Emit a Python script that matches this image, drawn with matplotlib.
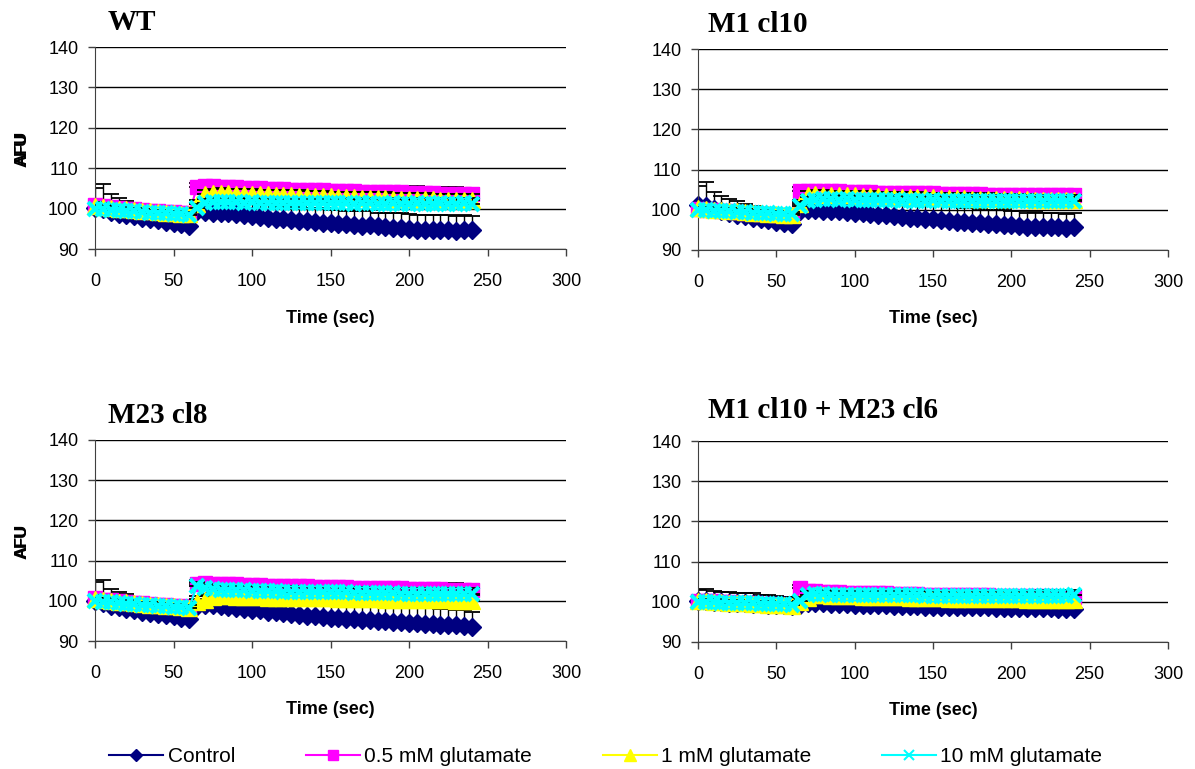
import numpy as np
import matplotlib
matplotlib.use("Agg")
import matplotlib.pyplot as plt
from matplotlib.lines import Line2D

plt.rcParams['font.family'] = ['Liberation Sans', 'DejaVu Sans']

# time points (sec)
time_s = [0, 5, 10, 15, 20, 25, 30, 35, 40, 45, 50, 55, 60,
          65, 70, 75, 80, 85, 90, 95, 100, 105, 110, 115, 120, 125, 130, 135,
          140, 145, 150, 155, 160, 165, 170, 175, 180, 185, 190, 195, 200,
          205, 210, 215, 220, 225, 230, 235, 240]

series_names = ['Control', '0.5 mM glutamate', '1 mM glutamate', '10 mM glutamate']
panel_titles = ['WT', 'M1 cl10', 'M23 cl8', 'M1 cl10 + M23 cl6']

# ---- WT ----
wt_ctrl = [100.2, 99.8, 99.2, 98.7, 98.4, 98.1, 97.7, 97.4, 97.1, 96.8, 96.5, 96.2, 95.8,
           99.3, 99.2, 99.0, 98.9, 98.8, 98.6, 98.3, 98.1, 97.9, 97.7, 97.5, 97.4, 97.1, 96.9,
           97.0, 96.7, 96.5, 96.4, 96.2, 96.1, 95.9, 95.8, 95.9, 95.6, 95.4, 95.2, 95.3, 95.0,
           94.8, 94.7, 94.8, 94.6, 94.6, 94.5, 94.6, 94.7]
wt_ctrl_err = [5.0, 6.2, 4.3, 3.9, 3.6, 3.4, 3.0, 2.9, 2.7, 2.6, 2.4, 2.5, 2.3,
               2.2, 2.4, 2.5, 2.7, 2.6, 2.9, 3.0, 3.3, 3.1, 3.2, 3.4, 3.0, 3.3, 3.5,
               3.2, 3.4, 3.6, 3.3, 3.5, 3.4, 3.6, 3.5, 3.7, 3.4, 3.6, 3.8, 3.5, 3.7,
               3.6, 3.8, 3.5, 3.9, 3.7, 3.6, 3.8, 3.5]
wt_05 = [100.8, 100.6, 100.4, 100.2, 100.0, 99.8, 99.7, 99.5, 99.4, 99.2, 99.1, 99.0, 98.9,
         105.4, 105.6, 105.5, 105.4, 105.3, 105.3, 105.1, 105.0, 105.0, 104.9, 104.8, 104.8,
         104.7, 104.6, 104.6, 104.5, 104.5, 104.4, 104.4, 104.3, 104.3, 104.2, 104.2, 104.1,
         104.1, 104.0, 104.0, 103.9, 103.9, 103.8, 103.8, 103.7, 103.7, 103.6, 103.6, 103.5]
wt_05_err = [1.2, 1.4, 1.3, 1.2, 1.1, 1.1, 1.0, 1.0, 0.9, 0.9, 0.9, 0.8, 0.8,
             1.0, 1.1, 1.2, 1.1, 1.2, 1.1, 1.2, 1.3, 1.2, 1.3, 1.2, 1.3, 1.4, 1.3,
             1.4, 1.3, 1.4, 1.5, 1.4, 1.5, 1.4, 1.5, 1.4, 1.5, 1.6, 1.5, 1.6, 1.5,
             1.6, 1.5, 1.6, 1.7, 1.6, 1.7, 1.6, 1.7]
wt_1 = [100.6, 100.4, 100.2, 100.0, 99.8, 99.6, 99.4, 99.3, 99.1, 99.0, 98.8, 98.7, 98.6,
        101.2, 103.6, 103.8, 103.9, 103.8, 103.7, 103.7, 103.6, 103.5, 103.5, 103.4, 103.3,
        103.3, 103.2, 103.1, 103.1, 103.0, 103.0, 102.9, 102.8, 102.8, 102.7, 102.7, 102.6,
        102.6, 102.5, 102.5, 102.4, 102.4, 102.3, 102.3, 102.2, 102.2, 102.2, 102.1, 102.1]
wt_1_err = [1.0, 1.1, 1.0, 1.0, 0.9, 0.9, 0.9, 0.8, 0.8, 0.8, 0.7, 0.7, 0.7,
            1.0, 1.1, 1.0, 1.1, 1.1, 1.2, 1.1, 1.2, 1.2, 1.1, 1.2, 1.3, 1.2, 1.3,
            1.2, 1.3, 1.3, 1.2, 1.3, 1.4, 1.3, 1.4, 1.3, 1.4, 1.4, 1.3, 1.4, 1.5,
            1.4, 1.5, 1.4, 1.5, 1.5, 1.4, 1.5, 1.5]
wt_10 = [100.0, 99.9, 99.7, 99.6, 99.4, 99.3, 99.2, 99.0, 98.9, 98.8, 98.7, 98.6, 98.5,
         100.2, 101.4, 101.6, 101.7, 101.6, 101.6, 101.5, 101.6, 101.5, 101.5, 101.4, 101.5,
         101.4, 101.4, 101.3, 101.4, 101.3, 101.3, 101.4, 101.3, 101.2, 101.3, 101.3, 101.2,
         101.2, 101.3, 101.2, 101.2, 101.3, 101.2, 101.2, 101.3, 101.2, 101.2, 101.3, 101.2]
wt_10_err = [0.9, 1.0, 0.9, 0.9, 0.8, 0.8, 0.8, 0.7, 0.7, 0.7, 0.7, 0.6, 0.6,
             0.9, 1.0, 1.0, 1.1, 1.0, 1.1, 1.1, 1.0, 1.1, 1.2, 1.1, 1.2, 1.1, 1.2,
             1.2, 1.1, 1.2, 1.3, 1.2, 1.3, 1.2, 1.3, 1.3, 1.2, 1.3, 1.4, 1.3, 1.4,
             1.3, 1.4, 1.4, 1.3, 1.4, 1.5, 1.4, 1.4]

# ---- M1 cl10 ----
m1_ctrl = [101.2, 101.0, 100.2, 99.6, 99.2, 98.8, 98.4, 98.0, 97.7, 97.4, 97.0, 96.8, 96.5,
           99.8, 100.0, 99.9, 99.8, 99.7, 99.7, 99.5, 99.3, 99.1, 99.0, 98.8, 98.6, 98.4, 98.2,
           98.0, 97.9, 97.7, 97.6, 97.4, 97.2, 97.0, 96.9, 96.8, 96.6, 96.5, 96.4, 96.3, 96.1,
           96.0, 95.8, 95.7, 95.7, 95.6, 95.6, 95.5, 95.6]
m1_ctrl_err = [4.6, 6.0, 4.3, 3.8, 3.5, 3.3, 3.1, 2.9, 2.7, 2.6, 2.5, 2.3, 2.2,
               2.5, 2.6, 2.8, 2.9, 3.0, 3.2, 3.1, 3.3, 3.4, 3.3, 3.5, 3.4, 3.6, 3.5,
               3.7, 3.6, 3.5, 3.7, 3.6, 3.8, 3.7, 3.6, 3.8, 3.7, 3.5, 3.6, 3.8, 3.7,
               3.6, 3.5, 3.7, 3.4, 3.6, 3.5, 3.4, 3.7]
m1_05 = [100.2, 100.0, 99.9, 99.7, 99.6, 99.4, 99.3, 99.2, 99.0, 98.9, 98.8, 98.7, 98.6,
         104.6, 104.8, 104.7, 104.7, 104.6, 104.6, 104.5, 104.5, 104.4, 104.4, 104.3, 104.3,
         104.3, 104.2, 104.2, 104.1, 104.1, 104.1, 104.0, 104.0, 104.0, 103.9, 103.9, 103.9,
         103.8, 103.8, 103.8, 103.8, 103.7, 103.7, 103.7, 103.7, 103.6, 103.6, 103.6, 103.6]
m1_05_err = [1.0, 1.1, 1.0, 1.0, 0.9, 0.9, 0.9, 0.8, 0.8, 0.8, 0.8, 0.7, 0.7,
             1.0, 1.1, 1.0, 1.1, 1.1, 1.2, 1.1, 1.2, 1.1, 1.2, 1.2, 1.3, 1.2, 1.3,
             1.2, 1.3, 1.3, 1.2, 1.3, 1.3, 1.4, 1.3, 1.4, 1.3, 1.4, 1.4, 1.3, 1.4,
             1.4, 1.5, 1.4, 1.4, 1.5, 1.4, 1.5, 1.5]
m1_1 = [100.4, 100.2, 100.0, 99.9, 99.7, 99.6, 99.4, 99.3, 99.2, 99.0, 98.9, 98.8, 98.7,
        101.5, 103.8, 103.9, 103.8, 103.8, 103.7, 103.7, 103.6, 103.5, 103.5, 103.4, 103.4,
        103.3, 103.3, 103.2, 103.2, 103.1, 103.1, 103.0, 103.0, 102.9, 102.9, 102.8, 102.8,
        102.8, 102.7, 102.7, 102.6, 102.6, 102.6, 102.5, 102.5, 102.5, 102.4, 102.4, 102.4]
m1_1_err = [0.9, 1.0, 0.9, 0.9, 0.9, 0.8, 0.8, 0.8, 0.7, 0.7, 0.7, 0.7, 0.6,
            0.9, 1.0, 1.0, 1.1, 1.0, 1.1, 1.1, 1.0, 1.1, 1.2, 1.1, 1.1, 1.2, 1.1,
            1.2, 1.2, 1.1, 1.2, 1.2, 1.3, 1.2, 1.2, 1.3, 1.2, 1.3, 1.3, 1.2, 1.3,
            1.3, 1.3, 1.2, 1.3, 1.3, 1.4, 1.3, 1.3]
m1_10 = [100.0, 99.9, 99.8, 99.7, 99.6, 99.5, 99.4, 99.3, 99.2, 99.1, 99.0, 98.9, 98.9,
         101.0, 102.3, 102.5, 102.6, 102.6, 102.5, 102.6, 102.5, 102.5, 102.4, 102.5, 102.4,
         102.4, 102.3, 102.4, 102.3, 102.3, 102.4, 102.3, 102.3, 102.2, 102.3, 102.3, 102.2,
         102.2, 102.3, 102.2, 102.2, 102.3, 102.2, 102.2, 102.3, 102.3, 102.2, 102.2, 102.3]
m1_10_err = [0.8, 0.9, 0.8, 0.8, 0.8, 0.7, 0.7, 0.7, 0.7, 0.6, 0.6, 0.6, 0.6,
             0.9, 1.0, 1.0, 1.0, 1.1, 1.0, 1.1, 1.0, 1.1, 1.1, 1.0, 1.1, 1.2, 1.1,
             1.1, 1.2, 1.1, 1.2, 1.2, 1.1, 1.2, 1.2, 1.3, 1.2, 1.2, 1.3, 1.2, 1.3,
             1.3, 1.2, 1.3, 1.3, 1.4, 1.3, 1.3, 1.4]

# ---- M23 cl8 ----
m23_ctrl = [100.0, 99.4, 98.8, 98.4, 98.0, 97.6, 97.3, 97.0, 96.7, 96.4, 96.1, 95.8, 95.5,
            98.8, 99.0, 98.9, 98.7, 98.5, 98.3, 98.0, 97.8, 97.6, 97.3, 97.1, 96.9, 96.7, 96.5,
            96.3, 96.1, 96.0, 95.8, 95.6, 95.5, 95.4, 95.2, 95.1, 95.0, 94.9, 94.8, 94.7, 94.6,
            94.5, 94.3, 94.2, 94.1, 94.0, 93.9, 93.7, 93.4]
m23_ctrl_err = [4.6, 5.8, 4.2, 3.8, 3.6, 3.4, 3.2, 3.0, 2.8, 2.7, 2.6, 2.5, 2.4,
                2.4, 2.6, 2.8, 2.9, 3.0, 3.1, 3.2, 3.2, 3.3, 3.4, 3.4, 3.5, 3.5, 3.6,
                3.6, 3.7, 3.6, 3.7, 3.8, 3.7, 3.8, 3.8, 3.7, 3.9, 3.8, 3.8, 3.9, 3.8,
                3.9, 3.8, 3.9, 3.8, 3.9, 3.8, 3.9, 3.9]
m23_05 = [100.6, 100.3, 100.1, 99.9, 99.7, 99.5, 99.4, 99.2, 99.0, 98.9, 98.7, 98.6, 98.5,
          104.2, 104.4, 104.3, 104.2, 104.1, 104.1, 104.0, 103.9, 103.9, 103.8, 103.8, 103.7,
          103.7, 103.6, 103.6, 103.5, 103.5, 103.4, 103.4, 103.4, 103.3, 103.3, 103.2, 103.2,
          103.1, 103.1, 103.1, 103.0, 103.0, 102.9, 102.9, 102.9, 102.8, 102.8, 102.8, 102.7]
m23_05_err = [1.1, 1.2, 1.1, 1.0, 1.0, 1.0, 0.9, 0.9, 0.9, 0.8, 0.8, 0.8, 0.7,
              1.0, 1.1, 1.0, 1.1, 1.2, 1.1, 1.2, 1.2, 1.3, 1.2, 1.3, 1.3, 1.2, 1.3,
              1.4, 1.3, 1.4, 1.3, 1.4, 1.4, 1.5, 1.4, 1.4, 1.5, 1.4, 1.5, 1.5, 1.4,
              1.5, 1.5, 1.6, 1.5, 1.5, 1.6, 1.5, 1.6]
m23_1 = [100.5, 100.2, 100.0, 99.8, 99.6, 99.4, 99.2, 99.0, 98.9, 98.7, 98.6, 98.4, 98.3,
         99.6, 100.2, 101.0, 101.2, 101.1, 101.0, 101.0, 100.9, 100.9, 100.8, 100.8, 100.8,
         100.7, 100.7, 100.7, 100.6, 100.6, 100.6, 100.5, 100.5, 100.5, 100.4, 100.4, 100.4,
         100.3, 100.3, 100.3, 100.2, 100.2, 100.2, 100.1, 100.1, 100.1, 100.0, 100.0, 100.0]
m23_1_err = [0.9, 1.0, 0.9, 0.9, 0.8, 0.8, 0.8, 0.8, 0.7, 0.7, 0.7, 0.6, 0.6,
             0.8, 0.9, 1.0, 1.0, 1.1, 1.0, 1.1, 1.1, 1.0, 1.1, 1.2, 1.1, 1.1, 1.2,
             1.1, 1.2, 1.2, 1.1, 1.2, 1.3, 1.2, 1.2, 1.3, 1.2, 1.3, 1.3, 1.2, 1.3,
             1.3, 1.4, 1.3, 1.3, 1.4, 1.3, 1.4, 1.4]
m23_10 = [100.0, 99.8, 99.6, 99.4, 99.3, 99.1, 99.0, 98.9, 98.7, 98.6, 98.5, 98.4, 98.3,
          103.8, 103.2, 102.9, 102.8, 102.7, 102.6, 102.6, 102.5, 102.5, 102.4, 102.4, 102.3,
          102.3, 102.3, 102.2, 102.2, 102.2, 102.1, 102.1, 102.1, 102.0, 102.0, 102.0, 101.9,
          101.9, 101.9, 101.8, 101.8, 101.8, 101.8, 101.7, 101.7, 101.7, 101.7, 101.6, 101.6]
m23_10_err = [0.8, 0.9, 0.8, 0.8, 0.8, 0.7, 0.7, 0.7, 0.7, 0.6, 0.6, 0.6, 0.6,
              1.0, 1.0, 1.1, 1.0, 1.1, 1.1, 1.2, 1.1, 1.2, 1.2, 1.1, 1.2, 1.3, 1.2,
              1.2, 1.3, 1.2, 1.3, 1.3, 1.2, 1.3, 1.4, 1.3, 1.3, 1.4, 1.3, 1.4, 1.4,
              1.3, 1.4, 1.5, 1.4, 1.4, 1.5, 1.4, 1.5]

# ---- M1 cl10 + M23 cl6 ----
dbl_ctrl = [100.2, 100.1, 100.0, 99.9, 99.8, 99.7, 99.6, 99.5, 99.4, 99.3, 99.2, 99.1, 99.0,
            99.2, 99.6, 99.7, 99.6, 99.5, 99.4, 99.4, 99.3, 99.2, 99.2, 99.1, 99.1, 99.0, 99.0,
            98.9, 98.9, 98.8, 98.8, 98.8, 98.7, 98.7, 98.7, 98.6, 98.6, 98.6, 98.5, 98.5, 98.5,
            98.5, 98.4, 98.4, 98.4, 98.4, 98.3, 98.3, 98.3]
dbl_ctrl_err = [2.8, 3.0, 2.8, 2.6, 2.7, 2.6, 2.5, 2.6, 2.4, 2.4, 2.3, 2.2, 2.1,
                2.0, 2.2, 2.4, 2.5, 2.6, 2.7, 2.8, 2.8, 2.9, 3.0, 3.0, 3.1, 3.1, 3.2,
                3.2, 3.3, 3.3, 3.3, 3.4, 3.4, 3.5, 3.5, 3.5, 3.6, 3.6, 3.6, 3.7, 3.7,
                3.7, 3.8, 3.8, 3.8, 3.9, 3.9, 3.9, 4.0]
dbl_05 = [100.3, 100.2, 100.1, 100.0, 99.9, 99.8, 99.7, 99.6, 99.5, 99.4, 99.3, 99.2, 99.1,
          103.4, 102.8, 102.6, 102.5, 102.4, 102.4, 102.3, 102.3, 102.2, 102.2, 102.1, 102.1,
          102.0, 102.0, 101.9, 101.9, 101.8, 101.8, 101.8, 101.7, 101.7, 101.7, 101.6, 101.6,
          101.6, 101.5, 101.5, 101.5, 101.5, 101.4, 101.4, 101.4, 101.4, 101.3, 101.3, 101.3]
dbl_05_err = [0.8, 0.9, 0.8, 0.8, 0.8, 0.7, 0.7, 0.7, 0.7, 0.6, 0.6, 0.6, 0.6,
              0.8, 0.9, 0.9, 1.0, 0.9, 1.0, 1.0, 1.1, 1.0, 1.1, 1.1, 1.0, 1.1, 1.2,
              1.1, 1.1, 1.2, 1.1, 1.2, 1.2, 1.1, 1.2, 1.3, 1.2, 1.2, 1.3, 1.2, 1.3,
              1.3, 1.2, 1.3, 1.3, 1.4, 1.3, 1.3, 1.4]
dbl_1 = [100.2, 100.1, 100.0, 99.9, 99.8, 99.7, 99.6, 99.5, 99.4, 99.3, 99.2, 99.1, 99.0,
         100.0, 101.0, 101.6, 101.6, 101.5, 101.5, 101.4, 101.4, 101.3, 101.3, 101.2, 101.2,
         101.1, 101.1, 101.0, 101.0, 100.9, 100.9, 100.9, 100.8, 100.8, 100.8, 100.7, 100.7,
         100.7, 100.6, 100.6, 100.6, 100.6, 100.5, 100.5, 100.5, 100.5, 100.4, 100.4, 100.4]
dbl_1_err = [0.7, 0.8, 0.7, 0.7, 0.7, 0.6, 0.6, 0.6, 0.6, 0.6, 0.5, 0.5, 0.5,
             0.7, 0.8, 0.9, 0.9, 1.0, 0.9, 1.0, 1.0, 1.0, 1.1, 1.0, 1.1, 1.1, 1.0,
             1.1, 1.1, 1.2, 1.1, 1.1, 1.2, 1.1, 1.2, 1.2, 1.1, 1.2, 1.2, 1.3, 1.2,
             1.2, 1.3, 1.2, 1.3, 1.3, 1.2, 1.3, 1.3]
dbl_10 = [100.0, 99.9, 99.9, 99.8, 99.8, 99.7, 99.6, 99.6, 99.5, 99.5, 99.4, 99.4, 99.3,
          100.3, 101.8, 101.9, 101.9, 101.8, 101.8, 101.8, 101.7, 101.7, 101.7, 101.7, 101.6,
          101.6, 101.6, 101.6, 101.6, 101.5, 101.5, 101.5, 101.5, 101.5, 101.5, 101.4, 101.4,
          101.4, 101.4, 101.4, 101.4, 101.4, 101.4, 101.5, 101.5, 101.5, 101.5, 101.5, 101.6]
dbl_10_err = [0.7, 0.8, 0.7, 0.7, 0.7, 0.7, 0.6, 0.6, 0.6, 0.6, 0.6, 0.5, 0.5,
              0.8, 0.9, 0.9, 1.0, 0.9, 1.0, 1.0, 1.0, 1.1, 1.0, 1.1, 1.1, 1.1, 1.2,
              1.1, 1.2, 1.1, 1.2, 1.2, 1.2, 1.3, 1.2, 1.2, 1.3, 1.2, 1.3, 1.3, 1.3,
              1.4, 1.3, 1.3, 1.4, 1.3, 1.4, 1.4, 1.4]

panels = [
    [(wt_ctrl, wt_ctrl_err), (wt_05, wt_05_err), (wt_1, wt_1_err), (wt_10, wt_10_err)],
    [(m1_ctrl, m1_ctrl_err), (m1_05, m1_05_err), (m1_1, m1_1_err), (m1_10, m1_10_err)],
    [(m23_ctrl, m23_ctrl_err), (m23_05, m23_05_err), (m23_1, m23_1_err), (m23_10, m23_10_err)],
    [(dbl_ctrl, dbl_ctrl_err), (dbl_05, dbl_05_err), (dbl_1, dbl_1_err), (dbl_10, dbl_10_err)],
]

colors = ['#000080', '#FF00FF', '#FFFF00', '#00FFFF']
markers = ['D', 's', '^', 'x']
msizes = [9.5, 10, 12, 10]

# axes rectangles in pixels: left, right, top(140), bottom(90)
W, H = 1195, 769
rects = [(95, 566, 47, 249), (698, 1168, 49, 250), (95, 566, 440, 641), (698, 1168, 441, 642)]
title_pos = [(108, 22), (708, 25), (108, 415), (708, 411)]

fig = plt.figure(figsize=(W / 100, H / 100), dpi=100)

t = np.array(time_s)
for p, (l, r, tp, bt) in enumerate(rects):
    ax = fig.add_axes([l / W, 1 - bt / H, (r - l) / W, (bt - tp) / H])
    for k, (vals, err) in enumerate(panels[p]):
        vals = np.array(vals)
        err = np.array(err)
        z = 2 + k
        ax.errorbar(t, vals, yerr=[np.zeros_like(err), err], fmt='none', ecolor='black',
                    elinewidth=1, capsize=6, capthick=1.3, zorder=z)
        ax.plot(t, vals, color=colors[k], marker=markers[k], ms=msizes[k],
                mew=3 if markers[k] == 'x' else 1, lw=1.5, zorder=z + 0.5,
                clip_on=False)
    ax.set_xlim(0, 300)
    ax.set_ylim(90, 140)
    ax.set_xticks(range(0, 301, 50))
    ax.set_yticks(range(90, 141, 10))
    ax.yaxis.grid(True, color='black', lw=1)
    ax.set_axisbelow(True)
    for s in ['top', 'right']:
        ax.spines[s].set_visible(False)
    ax.spines['left'].set_color('#404040')
    ax.spines['bottom'].set_color('#404040')
    ax.tick_params(axis='both', direction='out', length=5, width=1, labelsize=13,
                   color='#404040')
    ax.tick_params(axis='x', pad=12)
    ax.tick_params(axis='y', pad=7)
    ax.set_xlabel('Time (sec)', fontsize=13, fontweight='bold')
    ax.xaxis.set_label_coords(0.5, -0.30)
    ax.set_ylabel('AFU', fontsize=12, fontweight='bold', va='center')
    ax.yaxis.set_label_coords((22 - l) / (r - l), 0.5)
    tx, ty = title_pos[p]
    fig.text(tx / W, 1 - ty / H, panel_titles[p], fontsize=21, fontweight='bold',
             family='Liberation Serif', ha='left', va='center')

handles = [Line2D([], [], color=colors[k], marker=markers[k], ms=msizes[k] - 3.5,
                  mew=1.5 if markers[k] == 'x' else 1, lw=1.5) for k in range(4)]
fig.legend(handles, series_names, loc='center', bbox_to_anchor=(0.507, 1 - 757 / H),
           ncol=4, frameon=False, fontsize=15, handlelength=2.6, columnspacing=3.4,
           handletextpad=0.2)

fig.savefig('out.png', dpi=100)
